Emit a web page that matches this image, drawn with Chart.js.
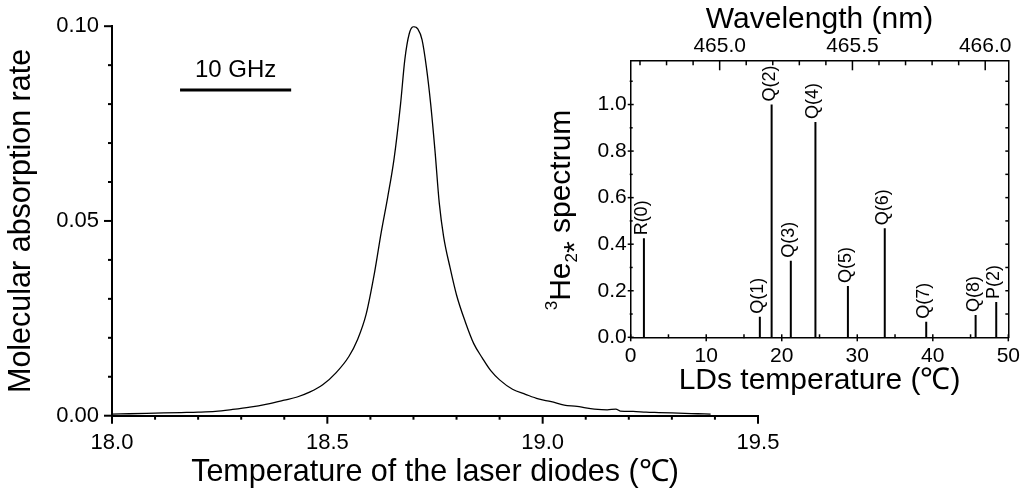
<!DOCTYPE html>
<html>
<head>
<meta charset="utf-8">
<script src="https://cdn.jsdelivr.net/npm/chart.js@4.4.0/dist/chart.umd.min.js"></script>
<style>
  html, body { margin: 0; padding: 0; background: #fff; }
  #wrap { position: relative; width: 1026px; height: 492px; overflow: hidden; }
  #main { position: absolute; left: 0; top: 0; }
  #inset { position: absolute; left: 530px; top: 0; }
</style>
</head>
<body>
<div id="wrap">
  <canvas id="main" width="1026" height="492"></canvas>
  <canvas id="inset" width="496" height="410"></canvas>
</div>
<script>
var FONT = "'Liberation Sans', Arial, sans-serif";

// absorption trace
var tempX = [18.00, 18.04, 18.08, 18.12, 18.16, 18.20, 18.24, 18.28, 18.32, 18.36,
             18.40, 18.43, 18.46, 18.49, 18.52, 18.55, 18.57, 18.59, 18.61, 18.625,
             18.64, 18.655, 18.67, 18.68, 18.69, 18.70, 18.71, 18.72, 18.73, 18.74,
             18.75, 18.76, 18.77, 18.785, 18.80, 18.82, 18.84, 18.86, 18.88, 18.90,
             18.93, 18.96, 18.99, 19.02, 19.05, 19.08, 19.10, 19.12, 19.15, 19.17,
             19.18, 19.21, 19.24, 19.27, 19.30, 19.33, 19.36, 19.39];
var absorption = [0.0004, 0.0005, 0.0006, 0.0007, 0.0008, 0.0009, 0.0011, 0.0016, 0.0022, 0.0030,
                  0.0040, 0.0048, 0.0061, 0.0080, 0.0110, 0.0152, 0.0195, 0.0260, 0.0370, 0.0470,
                  0.0560, 0.0660, 0.0800, 0.0915, 0.0980, 0.0999, 0.0993, 0.0965, 0.0895, 0.0800,
                  0.0680, 0.0545, 0.0460, 0.0380, 0.0310, 0.0242, 0.0185, 0.0148, 0.0115, 0.0092,
                  0.0068, 0.0055, 0.0043, 0.0036, 0.0027, 0.0024, 0.0020, 0.0017, 0.0015, 0.0017,
                  0.0012, 0.0011, 0.0009, 0.0008, 0.0007, 0.0006, 0.0005, 0.0004];
var mainXTicks = [18.0, 18.5, 19.0, 19.5];
var mainYTicks = [0, 0.05, 0.10];
// 10 GHz scale bar
var barLabel = '10 GHz';
var barX = [18.158, 18.416];
var barY = 0.0836;

// inset: 3He2* lines
var lineNames = ['R(0)', 'Q(1)', 'Q(2)', 'Q(3)', 'Q(4)', 'Q(5)', 'Q(6)', 'Q(7)', 'Q(8)', 'P(2)'];
var lineTemps = [1.75, 17.1, 18.66, 21.2, 24.46, 28.76, 33.64, 39.13, 45.67, 48.4];
var lineHeights = [0.425, 0.088, 1.0, 0.329, 0.925, 0.220, 0.468, 0.067, 0.096, 0.152];
var insetXTicks = [0, 10, 20, 30, 40, 50];
var insetYTicks = [0, 0.2, 0.4, 0.6, 0.8, 1.0];
var waveTicks = [465.0, 465.5, 466.0];
var waveRange = [464.665, 466.087];

function range(a, b, step) {
  var out = [];
  for (var i = 0; a + i * step <= b + 1e-9; i++) out.push(+(a + i * step).toFixed(4));
  return out;
}
function without(list, skip) {
  return list.filter(function(v) {
    return !skip.some(function(s) { return Math.abs(s - v) < 1e-6; });
  });
}
function fixTicks(list) {
  return function(scale) { scale.ticks = list.map(function(v) { return { value: v }; }); };
}

// tick marks drawn on the scales' pixel positions
function tickMarks(sets, width) {
  return {
    id: 'tickMarks',
    afterDraw: function(chart) {
      var ctx = chart.ctx, a = chart.chartArea;
      ctx.save();
      ctx.strokeStyle = '#000';
      ctx.lineWidth = width;
      sets.forEach(function(s) {
        var scale = chart.scales[s.scale];
        s.values.forEach(function(v) {
          var p = scale.getPixelForValue(v);
          ctx.beginPath();
          if (s.side === 'bottom') { ctx.moveTo(p, a.bottom - s.inLen); ctx.lineTo(p, a.bottom + s.outLen); }
          if (s.side === 'top') { ctx.moveTo(p, a.top + s.inLen); ctx.lineTo(p, a.top - s.outLen); }
          if (s.side === 'left') { ctx.moveTo(a.left + s.inLen, p); ctx.lineTo(a.left - s.outLen, p); }
          if (s.side === 'right') { ctx.moveTo(a.right - s.inLen, p); ctx.lineTo(a.right + s.outLen, p); }
          ctx.stroke();
        });
      });
      ctx.restore();
    }
  };
}

var barText = {
  id: 'barText',
  afterDraw: function(chart) {
    var ctx = chart.ctx;
    var x = chart.scales.x.getPixelForValue((barX[0] + barX[1]) / 2);
    var y = chart.scales.y.getPixelForValue(barY);
    ctx.save();
    ctx.fillStyle = '#000';
    ctx.font = '24px ' + FONT;
    ctx.textAlign = 'center';
    ctx.textBaseline = 'alphabetic';
    ctx.fillText(barLabel, x, y - 13);
    ctx.restore();
  }
};

var mainData = tempX.map(function(x, i) { return { x: x, y: absorption[i] }; });
var barData = [{ x: barX[0], y: barY }, { x: barX[1], y: barY }];

new Chart(document.getElementById('main'), {
  type: 'line',
  data: {
    datasets: [
      { data: mainData, borderColor: '#000', borderWidth: 1.3, pointRadius: 0, cubicInterpolationMode: 'monotone', fill: false },
      { data: barData, borderColor: '#000', borderWidth: 3, pointRadius: 0, fill: false }
    ]
  },
  options: {
    responsive: false,
    animation: false,
    devicePixelRatio: 1,
    layout: { padding: { top: 24, right: 268, bottom: 0, left: 0 } },
    plugins: { legend: { display: false }, tooltip: { enabled: false } },
    scales: {
      x: {
        type: 'linear', min: 18, max: 19.5,
        afterBuildTicks: fixTicks(mainXTicks),
        afterFit: function(s) { s.height = 76.3; },
        grid: { display: false, drawTicks: false },
        border: { color: '#000', width: 2 },
        ticks: { color: '#000', font: { family: FONT, size: 22 }, padding: 14, maxRotation: 0, autoSkip: false,
                 callback: function(v) { return v.toFixed(1); } },
        title: { display: true, text: 'Temperature of the laser diodes (℃)', color: '#000',
                 font: { family: FONT, size: 30.5 }, padding: { top: 0, bottom: 1 } }
      },
      y: {
        type: 'linear', min: 0, max: 0.1,
        afterBuildTicks: fixTicks(mainYTicks),
        afterFit: function(s) { s.width = 112; },
        grid: { display: false, drawTicks: false },
        border: { color: '#000', width: 2 },
        ticks: { color: '#000', font: { family: FONT, size: 22 }, padding: 13, autoSkip: false,
                 callback: function(v) { return v.toFixed(2); } },
        title: { display: true, text: 'Molecular absorption rate', color: '#000',
                 font: { family: FONT, size: 30.5 }, padding: { top: 3, bottom: 0 } }
      }
    }
  },
  plugins: [tickMarks([
    { scale: 'x', side: 'bottom', values: without(range(18, 19.5, 0.1), mainXTicks), inLen: 0, outLen: 4 },
    { scale: 'x', side: 'bottom', values: mainXTicks, inLen: 0, outLen: 8 },
    { scale: 'y', side: 'left', values: without(range(0, 0.1, 0.01), mainYTicks), inLen: 0, outLen: 4 },
    { scale: 'y', side: 'left', values: mainYTicks, inLen: 0, outLen: 8 }
  ], 2), barText]
});

// inset ---------------------------------------------------------------
var stemData = [];
lineTemps.forEach(function(t, i) {
  stemData.push({ x: t, y: 0 }, { x: t, y: lineHeights[i] }, { x: t, y: null });
});

var stemLabels = {
  id: 'stemLabels',
  afterDraw: function(chart) {
    var ctx = chart.ctx, xs = chart.scales.x, ys = chart.scales.y;
    ctx.save();
    ctx.fillStyle = '#000';
    ctx.font = '18px ' + FONT;
    ctx.textAlign = 'left';
    ctx.textBaseline = 'middle';
    lineNames.forEach(function(name, i) {
      ctx.save();
      ctx.translate(xs.getPixelForValue(lineTemps[i]) - 2, ys.getPixelForValue(lineHeights[i]) - 3);
      ctx.rotate(-Math.PI / 2);
      ctx.fillText(name, 0, 0);
      ctx.restore();
    });
    ctx.restore();
  }
};

var insetTitle = {
  id: 'insetTitle',
  afterDraw: function(chart) {
    var ctx = chart.ctx;
    var parts = [
      { t: '3', size: 17, dy: -13 },
      { t: 'He', size: 30, dy: 0 },
      { t: '2', size: 17, dy: 7 },
      { t: '*', size: 30, dy: 14 },
      { t: ' spectrum', size: 30, dy: 0 }
    ];
    ctx.save();
    ctx.fillStyle = '#000';
    ctx.textBaseline = 'alphabetic';
    ctx.textAlign = 'left';
    var total = 0;
    parts.forEach(function(p) { ctx.font = p.size + 'px ' + FONT; p.w = ctx.measureText(p.t).width; total += p.w; });
    ctx.translate(40, 210);
    ctx.rotate(-Math.PI / 2);
    var u = -total / 2;
    parts.forEach(function(p) {
      ctx.font = p.size + 'px ' + FONT;
      ctx.fillText(p.t, u, p.dy);
      u += p.w;
    });
    ctx.restore();
  }
};

var tickFont = { family: FONT, size: 21 };

new Chart(document.getElementById('inset'), {
  type: 'line',
  data: {
    datasets: [
      { data: stemData, borderColor: '#000', borderWidth: 2, pointRadius: 0, spanGaps: false, fill: false }
    ]
  },
  options: {
    responsive: false,
    animation: false,
    devicePixelRatio: 1,
    layout: { padding: { top: 0, right: 16, bottom: 0, left: 0 } },
    plugins: { legend: { display: false }, tooltip: { enabled: false } },
    scales: {
      x: {
        type: 'linear', position: 'bottom', min: 0, max: 50,
        afterBuildTicks: fixTicks(insetXTicks),
        afterFit: function(s) { s.height = 72.7; },
        grid: { display: false, drawTicks: false },
        border: { color: '#000', width: 1.5 },
        ticks: { color: '#000', font: tickFont, padding: 6, maxRotation: 0, autoSkip: false },
        title: { display: true, text: 'LDs temperature (℃)', color: '#000',
                 font: { family: FONT, size: 30 }, padding: { top: 0, bottom: 11 } }
      },
      x2: {
        type: 'linear', position: 'top', min: waveRange[0], max: waveRange[1],
        afterBuildTicks: fixTicks(waveTicks),
        afterFit: function(s) { s.height = 60.3; },
        grid: { display: false, drawTicks: false },
        border: { color: '#000', width: 1.5 },
        ticks: { color: '#000', font: tickFont, padding: 1, maxRotation: 0, autoSkip: false,
                 callback: function(v) { return v.toFixed(1); } },
        title: { display: true, text: 'Wavelength (nm)', color: '#000',
                 font: { family: FONT, size: 30 }, padding: { top: 2, bottom: 0 } }
      },
      y: {
        type: 'linear', position: 'left', min: 0, max: 1.19,
        afterBuildTicks: fixTicks(insetYTicks),
        afterFit: function(s) { s.width = 100.7; },
        grid: { display: false, drawTicks: false },
        border: { color: '#000', width: 1.5 },
        ticks: { color: '#000', font: tickFont, padding: 4, autoSkip: false,
                 callback: function(v) { return v.toFixed(1); } }
      },
      y2: {
        type: 'linear', position: 'right', min: 0, max: 1.19,
        afterFit: function(s) { s.width = 0; },
        grid: { display: false, drawTicks: false },
        border: { color: '#000', width: 1.5 },
        ticks: { display: false }
      }
    }
  },
  plugins: [tickMarks([
    { scale: 'x', side: 'bottom', values: [5, 15, 25, 35, 45], inLen: 3, outLen: 1 },
    { scale: 'x', side: 'bottom', values: insetXTicks, inLen: 3, outLen: 4 },
    { scale: 'x2', side: 'top', values: without(range(464.7, 466.0, 0.1), waveTicks), inLen: 5, outLen: 0 },
    { scale: 'x2', side: 'top', values: waveTicks, inLen: 10, outLen: 0 },
    { scale: 'y', side: 'left', values: [0.1, 0.3, 0.5, 0.7, 0.9, 1.1], inLen: 2, outLen: 1 },
    { scale: 'y', side: 'left', values: insetYTicks, inLen: 3, outLen: 3 },
    { scale: 'y2', side: 'right', values: range(0.1, 1.1, 0.1), inLen: 3, outLen: 0 }
  ], 1.5), stemLabels, insetTitle]
});
</script>
</body>
</html>
